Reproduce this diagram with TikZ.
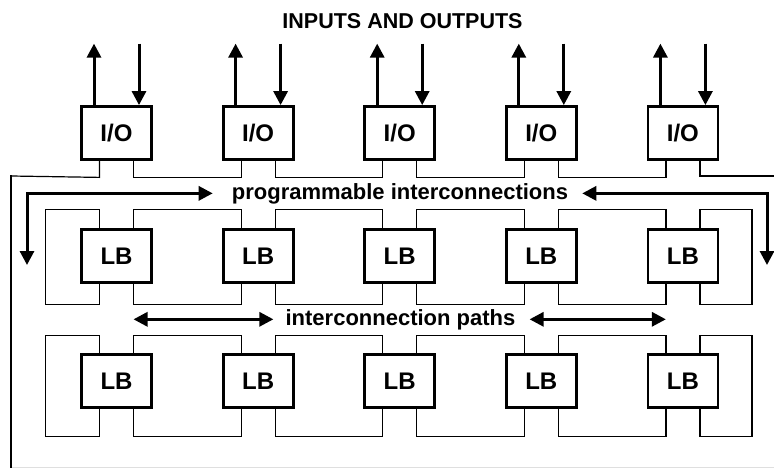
\documentclass[tikz,border=0pt]{standalone}
\usepackage{fontspec}
\setmainfont{Liberation Sans}
\usetikzlibrary{arrows.meta,calc}
\begin{document}
\begin{tikzpicture}[x=1pt,y=-1pt,
  blk/.style={draw,line width=2.8pt,minimum width=70pt,minimum height=53pt,inner sep=0pt,font=\fontsize{24}{24}\selectfont\bfseries},
  wire/.style={line width=1.2pt},
  arr/.style={line width=3pt,-{Triangle[length=14pt,width=14pt]}},
  darr/.style={line width=3pt,{Triangle[length=14pt,width=14pt]}-{Triangle[length=14pt,width=14pt]}},
  lbl/.style={font=\fontsize{22}{22}\selectfont\bfseries,inner sep=0pt,anchor=base}]
\fill[white] (0,0) rectangle (774,468);
\useasboundingbox (0,0) rectangle (774,468);

% title
\node[lbl,font=\fontsize{21.5}{21.5}\selectfont\bfseries] (title) at (402.5,29) {INPUTS AND OUTPUTS};

% blocks
\foreach \i in {1,...,5}{
  \node[blk] (io\i) at ({116.5+141.6*(\i-1)},133) {I/O};
  \node[blk] (a\i) at ({116.5+141.6*(\i-1)},256.3) {LB};
  \node[blk] (b\i) at ({116.5+141.6*(\i-1)},380.9) {LB};
  \draw[arr] ([xshift=-22.5pt]io\i.north) -- ([shift={(-22.5,-61.5)}]io\i.north);
  \draw[arr] ([shift={(22.5,-61.5)}]io\i.north) -- ([xshift=22.5pt]io\i.north);
}

% frame
\coordinate (fbl) at (11,468);
\coordinate (fr) at (774,176);
\draw[gray!25,line width=1pt] (11,467) -- (774,467);
\draw[wire] ([xshift=-17pt]io1.south) -- ++(0,16.5) -- (11,176);
\draw[line width=1.8pt] (11,175.4) -- (fbl);
\draw[wire] ([xshift=17pt]io5.south) |- (fr);

% interconnections between neighbouring blocks
\foreach \i/\j in {1/2,2/3,3/4,4/5}{
  \draw[wire] ([xshift=17pt]io\i.south) -- ++(0,16.5) -| ([xshift=-17pt]io\j.south);
  \draw[wire] ([xshift=17pt]a\i.north) -- ++(0,-19) -| ([xshift=-17pt]a\j.north);
  \draw[wire] ([xshift=17pt]a\i.south) -- ++(0,20) -| ([xshift=-17pt]a\j.south);
  \draw[wire] ([xshift=17pt]b\i.north) -- ++(0,-17.5) -| ([xshift=-17pt]b\j.north);
  \draw[wire] ([xshift=17pt]b\i.south) -- ++(0,27.5) -| ([xshift=-17pt]b\j.south);
}

% end brackets
\draw[wire] ([xshift=-17pt]a1.north) -- ++(0,-19) -- ++(-54,0) |- ([xshift=-17pt,yshift=-20pt]a1.south) -- ([xshift=-17pt]a1.south);
\draw[wire] ([xshift=17pt]a5.north) -- ++(0,-19) -- ++(52,0) |- ([xshift=17pt,yshift=-20pt]a5.south) -- ([xshift=17pt]a5.south);
\draw[wire] ([xshift=-17pt]b1.north) -- ++(0,-17.5) -- ++(-54,0) |- ([xshift=-17pt,yshift=-27.5pt]b1.south) -- ([xshift=-17pt]b1.south);
\draw[wire] ([xshift=17pt]b5.north) -- ++(0,-17.5) -- ++(52,0) |- ([xshift=17pt,yshift=-27.5pt]b5.south) -- ([xshift=17pt]b5.south);

% programmable interconnections
\node[lbl] (pi) at (400,199) {programmable interconnections};
\coordinate (pl) at (27,265);
\coordinate (pr) at (767,265);
\draw[darr] ([xshift=-19pt]pi.west) -| (pl);
\draw[darr] ([xshift=14pt]pi.east) -| (pr);

% interconnection paths
\node[lbl] (ip) at (400.5,325) {interconnection paths};
\coordinate (l1) at ([xshift=17pt]a1.south);
\coordinate (l5) at ([xshift=-17pt]a5.south);
\draw[darr] (l1 |- ip.west) -- ([xshift=-12pt]ip.west);
\draw[darr] ([xshift=14pt]ip.east) -- (l5 |- ip.east);
\end{tikzpicture}
\end{document}
